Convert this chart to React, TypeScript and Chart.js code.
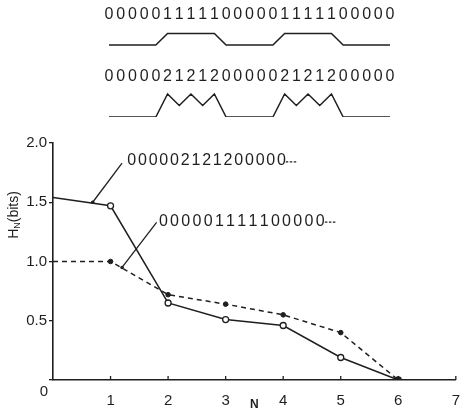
import { useEffect, useRef } from "react";
import { Chart, registerables } from "chart.js";

Chart.register(...registerables);

// Symbol sequences shown above the graph, with their level traces
const SEQ_BINARY = "0000011111000001111100000";
const SEQ_TERNARY = "0000021212000002121200000";

// Block entropy H_N (bits) against block length N
const N_VALUES = [0, 1, 2, 3, 4, 5, 6];
const H_TERNARY = [1.54, 1.47, 0.65, 0.51, 0.46, 0.19, 0];
const H_BINARY = [1.0, 1.0, 0.72, 0.64, 0.55, 0.4, 0];
const X_TICKS = [0, 1, 2, 3, 4, 5, 6, 7];

// Callout labels naming each curve
const LABEL_TERNARY = "000002121200000";
const LABEL_BINARY = "000001111100000";

const INK = "#1f1f1f";
const FONT = "'Liberation Sans', Arial, sans-serif";

const digits = (s: string) => s.split("").map((c) => Number(c));

const App = () => {
  const topRef = useRef<HTMLCanvasElement | null>(null);
  const mainRef = useRef<HTMLCanvasElement | null>(null);

  useEffect(() => {
    if (!topRef.current || !mainRef.current) return;

    const BINARY_BASE = 6.26;
    const seqText = {
      id: "seqText",
      afterDatasetsDraw(chart: any) {
        const { ctx, scales } = chart;
        const xs = scales.x;
        const ys = scales.y;
        ctx.save();
        ctx.fillStyle = INK;
        ctx.font = `16px ${FONT}`;
        ctx.textAlign = "center";
        ctx.textBaseline = "middle";
        const rows: [string, number][] = [
          [SEQ_BINARY, 8.87],
          [SEQ_TERNARY, 3.48],
        ];
        rows.forEach(([s, level]) => {
          s.split("").forEach((ch, i) => {
            ctx.fillText(ch, xs.getPixelForValue(i), ys.getPixelForValue(level));
          });
        });
        ctx.restore();
      },
    };

    const top = new Chart(topRef.current, {
      type: "line",
      data: {
        datasets: [
          {
            data: digits(SEQ_BINARY).map((d, i) => ({ x: i, y: BINARY_BASE + d })),
            borderColor: INK,
            borderWidth: 1.5,
            pointRadius: 0,
            tension: 0,
          },
          {
            data: digits(SEQ_TERNARY).map((d, i) => ({ x: i, y: d })),
            borderColor: INK,
            borderWidth: 1.5,
            pointRadius: 0,
            tension: 0,
          },
        ],
      },
      options: {
        animation: false,
        responsive: false,
        layout: { padding: { left: 109, right: 74, top: 2, bottom: 8 } },
        plugins: { legend: { display: false }, tooltip: { enabled: false } },
        scales: {
          x: { type: "linear", min: 0, max: SEQ_BINARY.length - 1, display: false },
          y: { min: 0, max: 10, display: false },
        },
      },
      plugins: [seqText],
    });

    const callouts = [
      { text: LABEL_TERNARY, anchor: [0.69, 1.5], elbow: [1.2, 1.83], at: [1.29, 1.85], pitch: 10.7 },
      { text: LABEL_BINARY, anchor: [1.2, 0.95], elbow: [1.8, 1.33], at: [1.84, 1.34], pitch: 11.2 },
    ];

    const decorations = {
      id: "decorations",
      afterDraw(chart: any) {
        const { ctx, scales, chartArea } = chart;
        const xs = scales.x;
        const ys = scales.y;
        ctx.save();
        ctx.strokeStyle = INK;
        ctx.fillStyle = INK;

        // inward ticks on the N axis
        ctx.lineWidth = 1.3;
        X_TICKS.forEach((v) => {
          if (v === 0) return;
          const px = xs.getPixelForValue(v);
          ctx.beginPath();
          ctx.moveTo(px, chartArea.bottom);
          ctx.lineTo(px, chartArea.bottom - 4);
          ctx.stroke();
        });

        // origin label
        ctx.font = `15px ${FONT}`;
        ctx.textAlign = "center";
        ctx.textBaseline = "middle";
        ctx.fillText("0", xs.getPixelForValue(0) - 9, chartArea.bottom + 12);

        // rotated axis title H_N(bits)
        ctx.save();
        ctx.translate(13, 90);
        ctx.rotate(-Math.PI / 2);
        ctx.textBaseline = "alphabetic";
        ctx.textAlign = "left";
        const big = `14px ${FONT}`;
        const small = `9px ${FONT}`;
        ctx.font = big;
        const wH = ctx.measureText("H").width;
        ctx.font = small;
        const wN = ctx.measureText("N").width;
        ctx.font = big;
        const wB = ctx.measureText("(bits)").width;
        const total = wH + wN + wB;
        let cx = -total / 2;
        ctx.font = big;
        ctx.fillText("H", cx, 5);
        cx += wH;
        ctx.font = small;
        ctx.fillText("N", cx, 7);
        cx += wN;
        ctx.font = big;
        ctx.fillText("(bits)", cx, 5);
        ctx.restore();

        // callouts with leader lines
        callouts.forEach((c) => {
          const ax = xs.getPixelForValue(c.anchor[0]);
          const ay = ys.getPixelForValue(c.anchor[1]);
          const ex = xs.getPixelForValue(c.elbow[0]);
          const ey = ys.getPixelForValue(c.elbow[1]);
          ctx.lineWidth = 1.3;
          ctx.setLineDash([]);
          ctx.beginPath();
          ctx.moveTo(ax, ay);
          ctx.lineTo(ex, ey);
          ctx.stroke();
          ctx.beginPath();
          ctx.arc(ax, ay, 1.8, 0, Math.PI * 2);
          ctx.fill();

          const tx = xs.getPixelForValue(c.at[0]);
          const ty = ys.getPixelForValue(c.at[1]);
          ctx.font = `16px ${FONT}`;
          ctx.textAlign = "left";
          ctx.textBaseline = "middle";
          c.text.split("").forEach((ch, i) => {
            ctx.fillText(ch, tx + i * c.pitch, ty);
          });
          const endX = tx + c.text.length * c.pitch - 2;
          ctx.lineWidth = 1.2;
          ctx.setLineDash([2.5, 1.5]);
          ctx.beginPath();
          ctx.moveTo(endX, ty + 1);
          ctx.lineTo(endX + 11, ty + 1);
          ctx.stroke();
          ctx.setLineDash([]);
        });
        ctx.restore();
      },
    };

    const main = new Chart(mainRef.current, {
      type: "line",
      data: {
        datasets: [
          {
            label: LABEL_BINARY,
            data: N_VALUES.map((n, i) => ({ x: n, y: H_BINARY[i] })),
            borderColor: INK,
            borderWidth: 1.5,
            borderDash: [5, 4],
            pointRadius: (ctx: any) => (ctx.dataIndex === 0 ? 0 : 2.3),
            pointBackgroundColor: INK,
            pointBorderColor: INK,
            pointBorderWidth: 1,
            tension: 0,
          },
          {
            label: LABEL_TERNARY,
            data: N_VALUES.map((n, i) => ({ x: n, y: H_TERNARY[i] })),
            borderColor: INK,
            borderWidth: 1.5,
            pointRadius: (ctx: any) => (ctx.dataIndex === 0 ? 0 : 3),
            pointBackgroundColor: "#ffffff",
            pointBorderColor: INK,
            pointBorderWidth: 1.3,
            tension: 0,
          },
        ],
      },
      options: {
        animation: false,
        responsive: false,
        layout: { padding: { left: 0, right: 3, top: 18, bottom: 0 } },
        plugins: { legend: { display: false }, tooltip: { enabled: false } },
        scales: {
          x: {
            type: "linear",
            min: 0,
            max: 7,
            afterBuildTicks: (s: any) => {
              s.ticks = X_TICKS.map((v) => ({ value: v }));
            },
            ticks: {
              autoSkip: false,
              maxRotation: 0,
              padding: 4,
              color: INK,
              font: { family: FONT, size: 15 },
              callback: (v: any) => (v === 0 ? "" : String(v)),
            },
            grid: { display: false },
            border: { display: true, color: INK, width: 1.6 },
            title: {
              display: true,
              text: "N",
              color: INK,
              font: { family: FONT, size: 12, weight: "bold" },
              padding: { top: 0, bottom: 2 },
            },
            afterFit: (s: any) => {
              s.height = 34;
            },
          },
          y: {
            min: 0,
            max: 2,
            ticks: {
              stepSize: 0.5,
              padding: 2,
              color: INK,
              font: { family: FONT, size: 15 },
              callback: (v: any) => (v === 0 ? "" : Number(v).toFixed(1)),
            },
            grid: {
              display: true,
              drawOnChartArea: false,
              drawTicks: true,
              tickLength: 4,
              color: INK,
              lineWidth: 1.3,
            },
            border: { display: true, color: INK, width: 1.6 },
            afterFit: (s: any) => {
              s.width = 53;
            },
          },
        },
      },
      plugins: [decorations],
    });

    return () => {
      top.destroy();
      main.destroy();
    };
  }, []);

  return (
    <div
      style={{
        position: "fixed",
        left: 0,
        top: 0,
        width: 464,
        height: 414,
        background: "#ffffff",
      }}
    >
      <canvas
        ref={topRef}
        width={464}
        height={125}
        style={{ position: "absolute", left: 0, top: 0, width: 464, height: 125 }}
      />
      <canvas
        ref={mainRef}
        width={464}
        height={289}
        style={{ position: "absolute", left: 0, top: 125, width: 464, height: 289 }}
      />
    </div>
  );
};

export default App;
